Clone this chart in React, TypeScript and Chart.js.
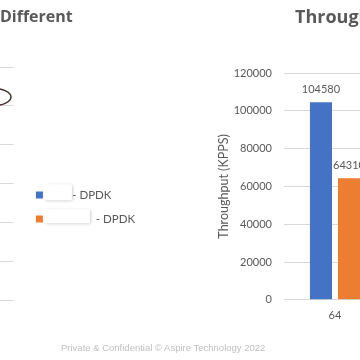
import React, { useEffect, useRef } from "react";
import { Chart, registerables } from "chart.js";

Chart.register(...registerables);

// ---- data ----
const categories: string[] = ["64"];
const seriesNames: string[] = ["        - DPDK", "                - DPDK"];
const blueValues: number[] = [104580];
const orangeValues: number[] = [64310];
const yMin = 0;
const yMax = 120000;
const yStep = 20000;
const yAxisTitle = "Throughput (KPPS)";
const leftTitle = "Different";
const rightTitle = "Throughput";
const footerText = "Private & Confidential \u00A9 Aspire Technology 2022";

const BLUE = "#4472C4";
const ORANGE = "#ED7D31";
const GRID = "#D9D9D9";
const TEXT = "#595959";
const FONT = "Lato";
const TITLE_FONT = '"Open Sans"';

const valueLabels = {
  id: "valueLabels",
  afterDatasetsDraw(chart: any) {
    const ctx = chart.ctx;
    ctx.save();
    ctx.font = `11px ${FONT}`;
    ctx.fillStyle = TEXT;
    ctx.textAlign = "center";
    ctx.textBaseline = "middle";
    chart.data.datasets.forEach((ds: any, i: number) => {
      chart.getDatasetMeta(i).data.forEach((el: any, j: number) => {
        ctx.fillText(String(ds.data[j]), el.x, el.y - 13);
      });
    });
    ctx.restore();
  },
};

const redactBoxes = {
  id: "redactBoxes",
  afterDraw(chart: any) {
    const boxes = chart.legend?.legendHitBoxes;
    if (!boxes) return;
    const ctx = chart.ctx;
    const specs = [
      { dx: 8, w: 28, dy: -5, h: 16 },
      { dx: 9, w: 45, dy: -4, h: 14 },
    ];
    ctx.save();
    boxes.forEach((b: any, i: number) => {
      const s = specs[i];
      if (!s) return;
      ctx.shadowColor = "rgba(0,0,0,0.25)";
      ctx.shadowBlur = 3;
      ctx.shadowOffsetX = 1;
      ctx.shadowOffsetY = 1;
      ctx.fillStyle = "#FFFFFF";
      ctx.fillRect(b.left + s.dx, b.top + s.dy, s.w, s.h);
    });
    ctx.restore();
  },
};

export default function App() {
  const leftRef = useRef<HTMLCanvasElement | null>(null);
  const rightRef = useRef<HTMLCanvasElement | null>(null);

  useEffect(() => {
    const left = new Chart(leftRef.current!, {
      type: "bar",
      data: {
        labels: [],
        datasets: [
          { label: seriesNames[0], data: [], backgroundColor: BLUE },
          { label: seriesNames[1], data: [], backgroundColor: ORANGE },
        ],
      },
      options: {
        animation: false,
        responsive: false,
        layout: { padding: { top: 67, bottom: 13, left: 0, right: 0 } },
        plugins: {
          legend: {
            position: "right",
            align: "center",
            labels: {
              boxWidth: 7,
              boxHeight: 7,
              padding: 12.5,
              color: TEXT,
              font: { size: 11.5, family: FONT },
            },
          },
          tooltip: { enabled: false },
        },
        scales: {
          x: {
            type: "category",
            grid: { display: false, drawTicks: false },
            border: { display: false },
            ticks: { display: false },
            afterFit: (s: any) => {
              s.height = 47;
            },
          },
          y: {
            min: yMin,
            max: yMax,
            ticks: { display: false, stepSize: yStep },
            grid: { color: GRID, drawTicks: false },
            border: { display: false },
          },
          spacer: {
            type: "linear",
            position: "right",
            display: true,
            grid: { display: false, drawTicks: false },
            border: { display: false },
            ticks: { display: false },
            afterFit: (s: any) => {
              s.width = 10;
            },
          },
        },
      } as any,
      plugins: [redactBoxes],
    });
    const ca = left.chartArea;
    leftRef.current!.style.left = `${13 - ca.right}px`;

    const right = new Chart(rightRef.current!, {
      type: "bar",
      data: {
        labels: categories,
        datasets: [
          {
            label: seriesNames[0],
            data: blueValues,
            backgroundColor: BLUE,
            barPercentage: 0.786,
            categoryPercentage: 0.55,
          },
          {
            label: seriesNames[1],
            data: orangeValues,
            backgroundColor: ORANGE,
            barPercentage: 0.786,
            categoryPercentage: 0.55,
          },
        ],
      },
      options: {
        animation: false,
        responsive: false,
        layout: { padding: { left: 10, right: 14, top: 73, bottom: 29 } },
        plugins: {
          legend: { display: false },
          tooltip: { enabled: false },
        },
        scales: {
          x: {
            grid: { display: false, drawTicks: false },
            border: { display: false },
            ticks: { color: TEXT, font: { size: 11, family: FONT }, padding: 9 },
          },
          y: {
            min: yMin,
            max: yMax,
            ticks: {
              stepSize: yStep,
              padding: 12,
              color: TEXT,
              font: { size: 11, family: FONT },
              callback: (v: any) => String(v),
            },
            grid: { color: GRID, drawTicks: false },
            border: { display: false },
            title: {
              display: true,
              text: yAxisTitle,
              color: TEXT,
              font: { size: 12.5, family: FONT },
              padding: { top: 6, bottom: 0 },
            },
            afterFit: (s: any) => {
              s.width = 74;
            },
          },
        },
      } as any,
      plugins: [valueLabels],
    });

    return () => {
      left.destroy();
      right.destroy();
    };
  }, []);

  return (
    <div
      style={{
        position: "fixed",
        left: 0,
        top: 0,
        width: 360,
        height: 360,
        overflow: "hidden",
        background: "#FFFFFF",
        fontFamily: FONT,
      }}
    >
      <canvas
        ref={leftRef}
        width={1000}
        height={360}
        style={{ position: "absolute", top: 0, left: -900, display: "block" }}
      />
      <canvas
        ref={rightRef}
        width={200}
        height={360}
        style={{ position: "absolute", top: 0, left: 200, display: "block" }}
      />
      <div
        style={{
          position: "absolute",
          left: 0,
          top: 5.5,
          font: `bold 16px ${TITLE_FONT}`,
          lineHeight: "20px",
          color: TEXT,
          whiteSpace: "nowrap",
        }}
      >
        {leftTitle}
      </div>
      <div
        style={{
          position: "absolute",
          left: 295,
          top: 5.5,
          font: `bold 18px ${TITLE_FONT}`,
          lineHeight: "20px",
          color: TEXT,
          whiteSpace: "nowrap",
        }}
      >
        {rightTitle}
      </div>
      <div
        style={{
          position: "absolute",
          left: 61,
          top: 342,
          font: `9.5px "Liberation Sans"`,
          lineHeight: "12px",
          color: "#BFBFBF",
          whiteSpace: "nowrap",
        }}
      >
        {footerText}
      </div>
      <svg
        width={360}
        height={360}
        style={{ position: "absolute", left: 0, top: 0, pointerEvents: "none" }}
      >
        <ellipse cx={-9} cy={97} rx={20} ry={9} fill="none" stroke="#3F302B" strokeWidth={1.5} />
      </svg>
    </div>
  );
}
